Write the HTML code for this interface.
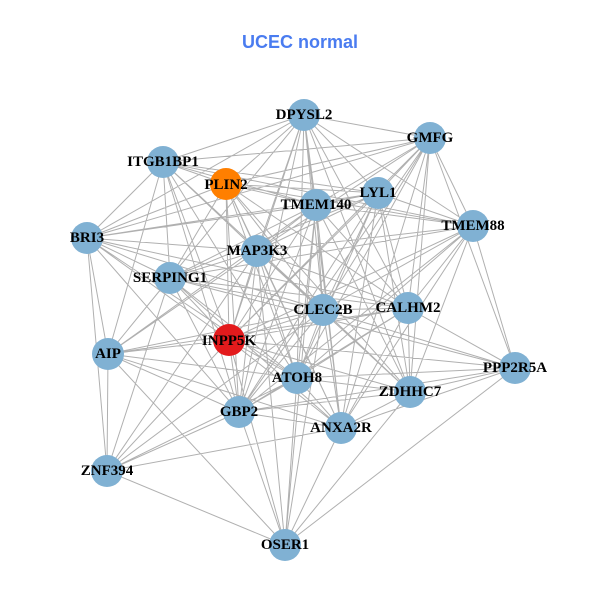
<!DOCTYPE html>
<html><head><meta charset="utf-8"><style>
html,body{margin:0;padding:0;background:#fff;}
svg{display:block}
text.l{font-family:"Liberation Serif",serif;font-weight:bold;font-size:15px;fill:#000;text-anchor:middle;dominant-baseline:central}
</style></head><body>
<svg width="600" height="600" viewBox="0 0 600 600">
<text x="300" y="48" font-family="Liberation Sans,sans-serif" font-weight="bold" font-size="18" fill="#4a7cf0" text-anchor="middle">UCEC normal</text>
<path stroke="#b0b0b0" stroke-width="1" fill="none" d="
M304 115L430 138M304 115L163 162M304 115L226 184M304 115L378 193M304 115L316 205M304 115L473 226M304 115L257 251M304 115L170 278M304 115L323 310M304 115L408 308M304 115L229 340M304 115L297 378M304 115L410 392M304 115L239 412M304 115L87 238M304 115L341 428
M430 138L163 162M430 138L226 184M430 138L378 193M430 138L316 205M430 138L473 226M430 138L257 251M430 138L323 310M430 138L408 308M430 138L229 340M430 138L515 368M430 138L297 378M430 138L410 392M430 138L87 238M430 138L239 412M430 138L341 428
M163 162L226 184M163 162L378 193M163 162L316 205M163 162L87 238M163 162L257 251M163 162L170 278M163 162L323 310M163 162L229 340M163 162L108 354M163 162L297 378M163 162L239 412M163 162L473 226
M226 184L378 193M226 184L316 205M226 184L87 238M226 184L473 226M226 184L257 251M226 184L170 278M226 184L323 310M226 184L408 308M226 184L229 340M226 184L297 378M226 184L410 392M226 184L239 412M226 184L341 428
M378 193L316 205M378 193L473 226M378 193L257 251M378 193L170 278M378 193L323 310M378 193L408 308M378 193L229 340M378 193L297 378M378 193L410 392M378 193L239 412M378 193L341 428M378 193L87 238
M316 205L473 226M316 205L257 251M316 205L170 278M316 205L323 310M316 205L408 308M316 205L229 340M316 205L297 378M316 205L410 392M316 205L239 412M316 205L341 428M316 205L87 238M316 205L108 354M316 205L285 545
M87 238L257 251M87 238L170 278M87 238L323 310M87 238L229 340M87 238L108 354M87 238L107 471M87 238L239 412M87 238L297 378M87 238L408 308
M473 226L257 251M473 226L170 278M473 226L323 310M473 226L408 308M473 226L229 340M473 226L515 368M473 226L297 378M473 226L410 392M473 226L239 412M473 226L341 428
M257 251L170 278M257 251L323 310M257 251L408 308M257 251L229 340M257 251L108 354M257 251L297 378M257 251L410 392M257 251L239 412M257 251L341 428M257 251L107 471M257 251L285 545
M170 278L323 310M170 278L408 308M170 278L229 340M170 278L108 354M170 278L297 378M170 278L239 412M170 278L341 428M170 278L107 471M170 278L515 368
M323 310L408 308M323 310L229 340M323 310L108 354M323 310L515 368M323 310L297 378M323 310L410 392M323 310L239 412M323 310L341 428M323 310L107 471M323 310L285 545
M408 308L229 340M408 308L515 368M408 308L297 378M408 308L410 392M408 308L239 412M408 308L341 428M408 308L108 354
M229 340L108 354M229 340L515 368M229 340L297 378M229 340L410 392M229 340L239 412M229 340L341 428M229 340L107 471M229 340L285 545
M108 354L297 378M108 354L239 412M108 354L341 428M108 354L107 471M108 354L285 545M108 354L408 308
M515 368L297 378M515 368L410 392M515 368L341 428M515 368L285 545M515 368L239 412
M297 378L410 392M297 378L239 412M297 378L341 428M297 378L107 471M297 378L285 545
M410 392L239 412M410 392L341 428M410 392L285 545
M239 412L341 428M239 412L107 471M239 412L285 545
M341 428L107 471M341 428L285 545M107 471L285 545"/>
<g fill="#80b1d3">
<circle cx="304" cy="115" r="16"/><circle cx="430" cy="138" r="16"/><circle cx="163" cy="162" r="16"/>
<circle cx="378" cy="193" r="16"/><circle cx="316" cy="205" r="16"/>
<circle cx="87" cy="238" r="16"/><circle cx="473" cy="226" r="16"/><circle cx="257" cy="251" r="16"/>
<circle cx="170" cy="278" r="16"/><circle cx="323" cy="310" r="16"/><circle cx="408" cy="308" r="16"/>
<circle cx="108" cy="354" r="16"/><circle cx="515" cy="368" r="16"/>
<circle cx="297" cy="378" r="16"/><circle cx="410" cy="392" r="16"/><circle cx="239" cy="412" r="16"/>
<circle cx="341" cy="428" r="16"/><circle cx="107" cy="471" r="16"/><circle cx="285" cy="545" r="16"/>
</g>
<circle cx="226" cy="184" r="16" fill="#ff7f00"/>
<circle cx="229" cy="340" r="16" fill="#e31a1c"/>
<text class="l" x="304" y="115">DPYSL2</text>
<text class="l" x="430" y="138">GMFG</text>
<text class="l" x="163" y="162">ITGB1BP1</text>
<text class="l" x="226" y="185">PLIN2</text>
<text class="l" x="378" y="193">LYL1</text>
<text class="l" x="316" y="205">TMEM140</text>
<text class="l" x="87" y="238">BRI3</text>
<text class="l" x="473" y="226">TMEM88</text>
<text class="l" x="257" y="251">MAP3K3</text>
<text class="l" x="170" y="278">SERPING1</text>
<text class="l" x="323" y="310">CLEC2B</text>
<text class="l" x="408" y="308">CALHM2</text>
<text class="l" x="229" y="341">INPP5K</text>
<text class="l" x="108" y="354">AIP</text>
<text class="l" x="515" y="368">PPP2R5A</text>
<text class="l" x="297" y="378">ATOH8</text>
<text class="l" x="410" y="392">ZDHHC7</text>
<text class="l" x="239" y="412">GBP2</text>
<text class="l" x="341" y="428">ANXA2R</text>
<text class="l" x="107" y="471">ZNF394</text>
<text class="l" x="285" y="545">OSER1</text>
</svg>
</body></html>
